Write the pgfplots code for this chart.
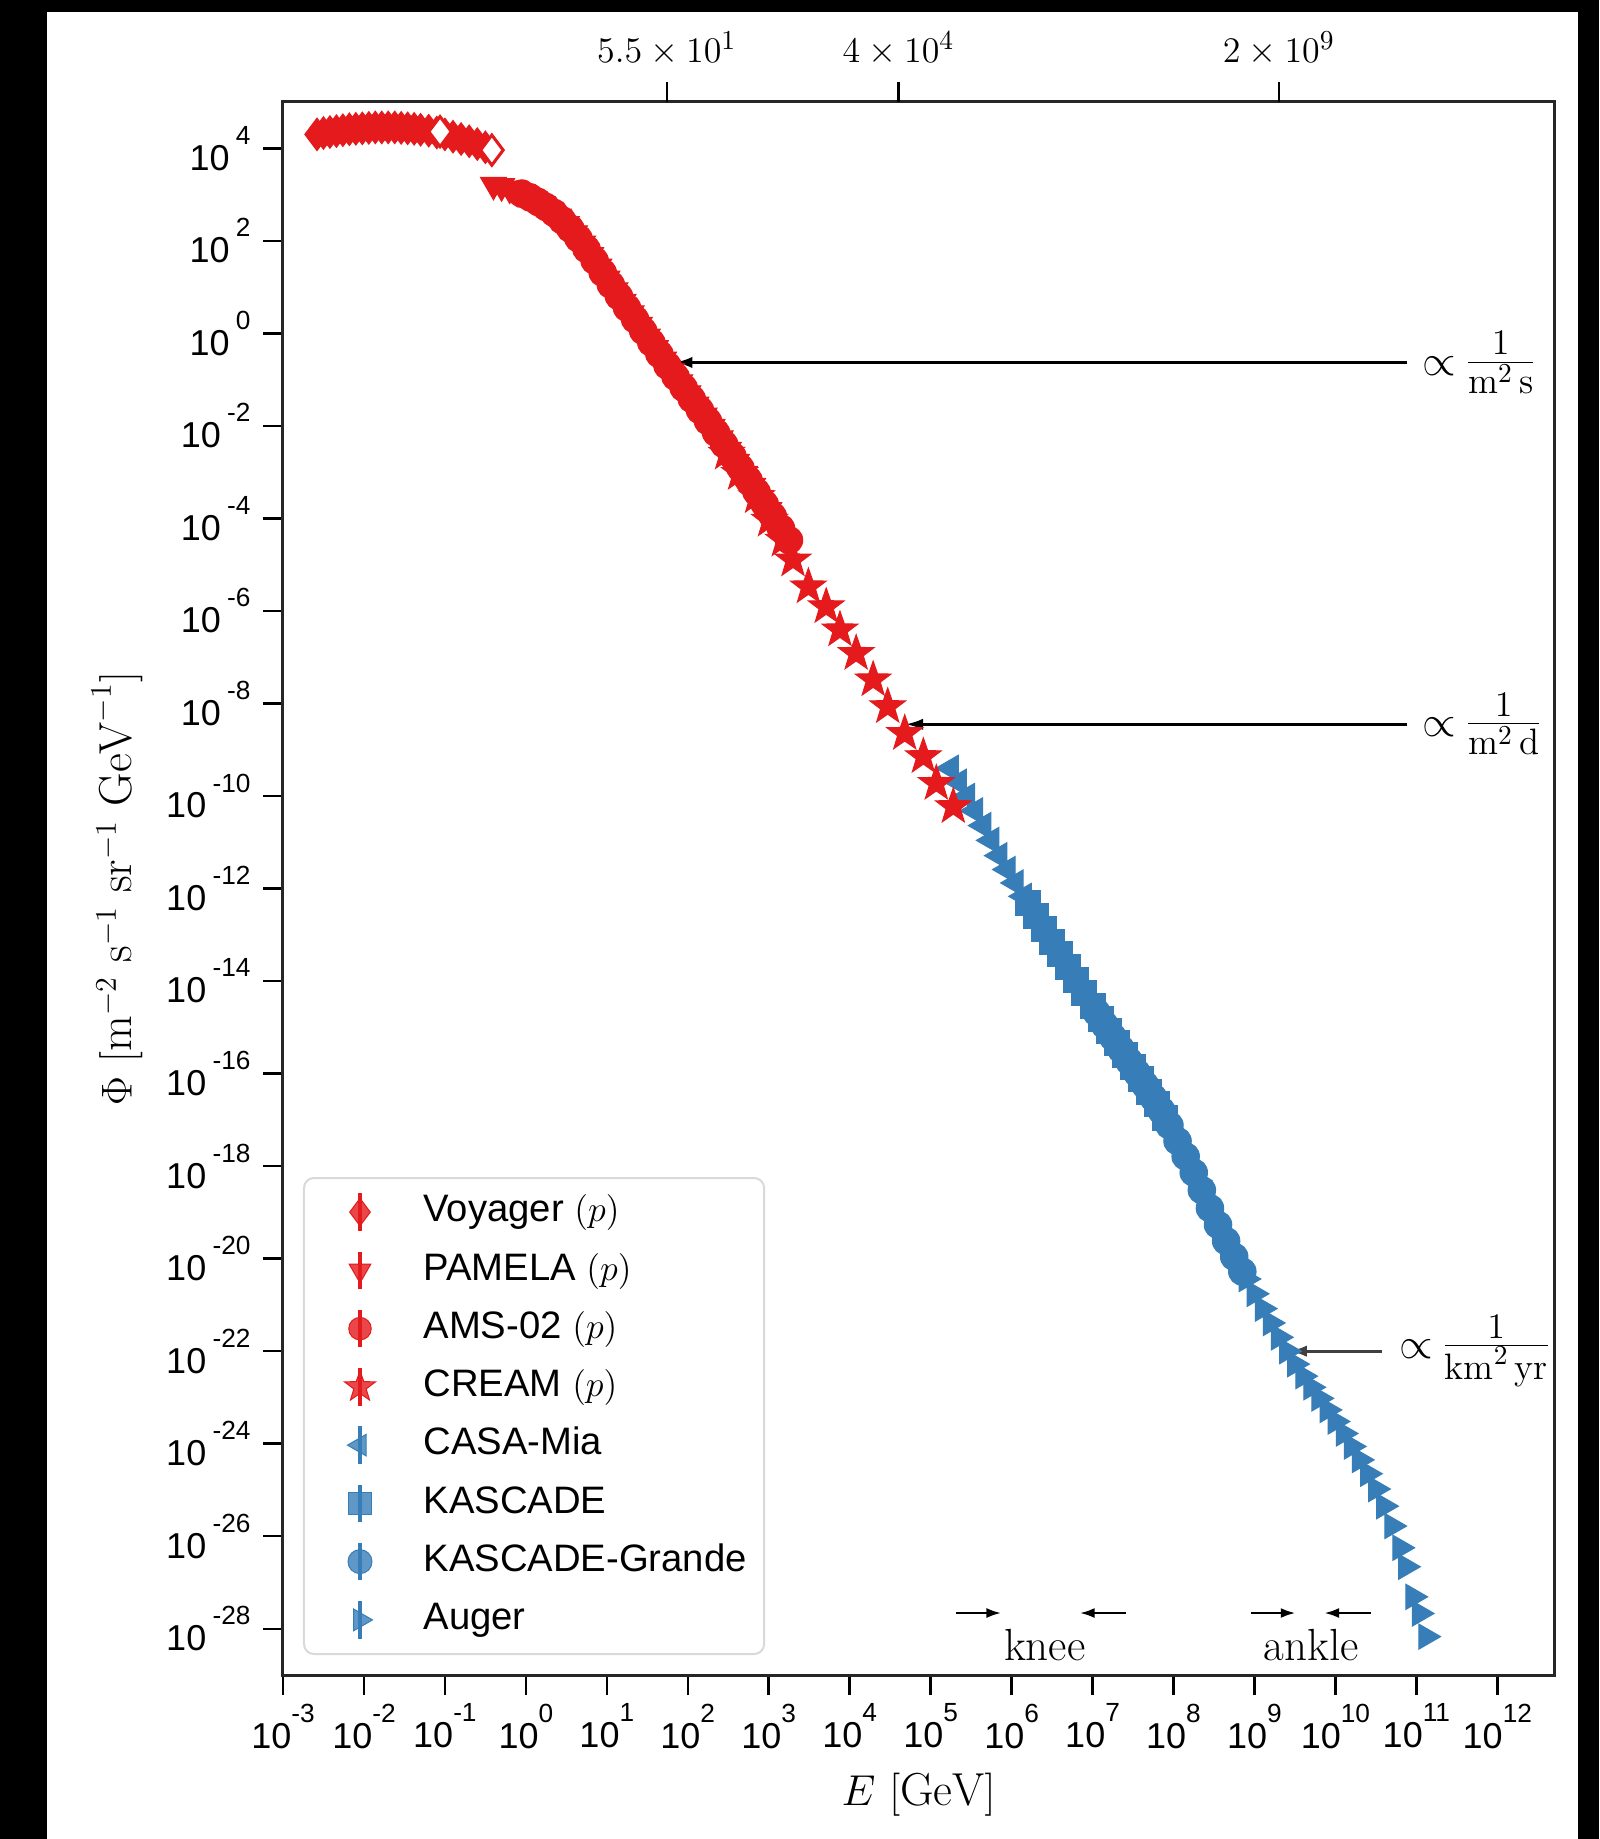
\documentclass[border=0pt]{standalone}
\usepackage{fontspec}
\usepackage{pgfplots}
\pgfplotsset{compat=1.18}
\usetikzlibrary{arrows.meta}
\newfontfamily\arial{Liberation Sans}
\definecolor{cred}{RGB}{228,26,28}
\definecolor{cblue}{RGB}{55,126,184}
\newcommand{\tkl}[1]{10\raisebox{0.72em}{\fontsize{10.5}{11}\selectfont #1}}
\newcommand{\tkly}[1]{10\kern2.5pt\raisebox{0.72em}{\fontsize{10.5}{11}\selectfont #1}}

\pgfdeclareplotmark{fstar}{%
 \pgfpathmoveto{\pgfpointpolar{90}{\pgfplotmarksize}}%
 \pgfpathlineto{\pgfpointpolar{126}{0.40\pgfplotmarksize}}%
 \pgfpathlineto{\pgfpointpolar{162}{\pgfplotmarksize}}%
 \pgfpathlineto{\pgfpointpolar{198}{0.40\pgfplotmarksize}}%
 \pgfpathlineto{\pgfpointpolar{234}{\pgfplotmarksize}}%
 \pgfpathlineto{\pgfpointpolar{270}{0.40\pgfplotmarksize}}%
 \pgfpathlineto{\pgfpointpolar{306}{\pgfplotmarksize}}%
 \pgfpathlineto{\pgfpointpolar{342}{0.40\pgfplotmarksize}}%
 \pgfpathlineto{\pgfpointpolar{18}{\pgfplotmarksize}}%
 \pgfpathlineto{\pgfpointpolar{54}{0.40\pgfplotmarksize}}%
 \pgfpathclose
 \pgfusepathqfillstroke
}

\pgfplotsset{
 legimg/.style={legend image code/.code={%
   \path (0pt,-7pt) (40pt,7pt);
   \draw[line width=1.3pt] (20pt,-7.5pt) -- (20pt,7.5pt);
   \draw plot coordinates {(20pt,0pt)};}},
 sVoy/.style={cred, only marks, mark=diamond*, mark size=6.5pt, mark options={solid, fill=cred, draw=cred, line width=0.4pt}},
 sVoyOpen/.style={cred, only marks, mark=diamond*, mark size=6pt, mark options={solid, fill=white, draw=cred, line width=1.2pt}},
 sPam/.style={cred, only marks, mark=triangle*, mark size=6pt, mark options={solid, rotate=180, fill=cred, draw=cred, line width=0.4pt}},
 sAms/.style={cred, only marks, mark=*, mark size=5.5pt, mark options={solid, fill=cred, draw=cred, line width=0.4pt}},
 sCre/.style={cred, only marks, mark=fstar, mark size=7.5pt, mark options={solid, fill=cred, draw=cred, line width=0.4pt}},
 sCas/.style={cblue, only marks, mark=triangle*, mark size=6pt, mark options={solid, rotate=90, fill=cblue, draw=cblue, line width=0.4pt}},
 sKas/.style={cblue, only marks, mark=square*, mark size=5pt, mark options={solid, fill=cblue, draw=cblue, line width=0.4pt}},
 sKag/.style={cblue, only marks, mark=*, mark size=5.5pt, mark options={solid, fill=cblue, draw=cblue, line width=0.4pt}},
 sAug/.style={cblue, only marks, mark=triangle*, mark size=5.8pt, mark options={solid, rotate=-90, fill=cblue, draw=cblue, line width=0.4pt}},
}

\begin{document}
\begin{tikzpicture}
\fill[black] (-113.2pt,-65.6pt) rectangle (526.4pt,670pt);
\fill[white] (-94.4pt,-65.6pt) rectangle (518pt,665.2pt);

\begin{axis}[
 at={(0,0)}, anchor=south west, scale only axis,
 width=508.4pt, height=629.2pt,
 xmode=log, ymode=log, log basis x=10, log basis y=10,
 xmin=1e-3, xmax=5.012e12, ymin=1e-29, ymax=1e5,
 xtick={1e-3,1e-2,1e-1,1,1e1,1e2,1e3,1e4,1e5,1e6,1e7,1e8,1e9,1e10,1e11,1e12},
 xticklabels={\tkl{-3},\tkl{-2},\tkl{-1},\tkl{0},\tkl{1},\tkl{2},\tkl{3},\tkl{4},\tkl{5},\tkl{6},\tkl{7},\tkl{8},\tkl{9},\tkl{10},\tkl{11},\tkl{12}},
 ytick={1e-28,1e-26,1e-24,1e-22,1e-20,1e-18,1e-16,1e-14,1e-12,1e-10,1e-8,1e-6,1e-4,1e-2,1,1e2,1e4},
 yticklabels={\tkly{-28},\tkly{-26},\tkly{-24},\tkly{-22},\tkly{-20},\tkly{-18},\tkly{-16},\tkly{-14},\tkly{-12},\tkly{-10},\tkly{-8},\tkly{-6},\tkly{-4},\tkly{-2},\tkly{0},\tkly{2},\tkly{4}},
 xminorticks=false, yminorticks=false,
 tick align=outside, tick pos=left,
 major tick length=8pt,
 tick style={line width=1pt, black},
 axis line style={line width=1.2pt, black!85},
 tick label style={font=\arial\fontsize{14.4}{17}\selectfont},
 yticklabel style={xshift=-1.5pt},
 xlabel={$E\ [\mathrm{GeV}]$},
 ylabel={$\Phi\ [\mathrm{m}^{-2}\ \mathrm{s}^{-1}\ \mathrm{sr}^{-1}\ \mathrm{GeV}^{-1}]$},
 every axis x label/.style={at={(axis description cs:0.5,0)}, yshift=-48pt, anchor=center, font=\fontsize{18.5}{22}\selectfont},
 every axis y label/.style={at={(axis description cs:0,0.5)}, xshift=-66.4pt, rotate=90, anchor=center, font=\fontsize{18.5}{22}\selectfont},
 legend cell align=left,
 legend style={at={(0,0)}, anchor=south west, xshift=8pt, yshift=8pt,
   draw=black!15, line width=0.8pt, rounded corners=4pt,
   fill=white, fill opacity=0.8, text opacity=1, draw opacity=1,
   font=\arial\fontsize{15.3}{18}\selectfont,
   inner xsep=2pt, inner ysep=2pt, row sep=0pt,
   nodes={inner xsep=5pt, inner ysep=4pt, text height=11.5pt, text depth=3.8pt}},
]
\addlegendimage{sVoy, mark size=5.5pt, legimg}\addlegendentry{Voyager $(p)$}
\addlegendimage{sPam, mark size=5pt, legimg}\addlegendentry{PAMELA $(p)$}
\addlegendimage{sAms, mark size=4.5pt, legimg}\addlegendentry{AMS-02 $(p)$}
\addlegendimage{sCre, mark size=6.5pt, legimg}\addlegendentry{CREAM $(p)$}
\addlegendimage{sCas, mark size=5pt, legimg}\addlegendentry{CASA-Mia}
\addlegendimage{sKas, mark size=4.5pt, legimg}\addlegendentry{KASCADE}
\addlegendimage{sKag, mark size=4.8pt, legimg}\addlegendentry{KASCADE-Grande}
\addlegendimage{sAug, mark size=5pt, legimg}\addlegendentry{Auger}

% CASA-Mia
\addplot[sCas, forget plot] coordinates {
(1.778e5,3.981e-10) (2.239e5,1.995e-10) (2.818e5,9.772e-11) (3.548e5,4.786e-11)
(4.467e5,2.291e-11) (5.623e5,1.096e-11) (7.079e5,5.129e-12) (8.913e5,2.570e-12)
(1.122e6,1.318e-12) (1.413e6,6.761e-13) (1.778e6,3.467e-13) (2.239e6,1.820e-13)
(2.818e6,9.772e-14) (3.548e6,5.248e-14)
};
% KASCADE
\addplot[sKas, forget plot] coordinates {
(1.585e6,4.786e-13) (1.995e6,2.512e-13) (2.512e6,1.318e-13) (3.162e6,7.079e-14)
(3.981e6,3.802e-14) (5.012e6,2.042e-14) (6.310e6,1.072e-14) (7.943e6,5.623e-15)
(1.000e7,2.818e-15) (1.259e7,1.514e-15) (1.585e7,8.318e-16) (1.995e7,4.571e-16)
(2.512e7,2.512e-16) (3.162e7,1.380e-16) (3.981e7,7.586e-17) (5.012e7,4.074e-17)
(6.310e7,2.188e-17) (7.943e7,1.122e-17)
};
% KASCADE-Grande
\addplot[sKag, forget plot] coordinates {
(1.122e7,2.089e-15) (1.413e7,1.122e-15) (1.778e7,6.166e-16) (2.239e7,3.388e-16)
(2.818e7,1.862e-16) (3.548e7,1.023e-16) (4.467e7,5.623e-17) (5.623e7,3.020e-17)
(7.079e7,1.585e-17) (8.913e7,7.586e-18) (1.122e8,3.467e-18) (1.413e8,1.622e-18)
(1.778e8,7.244e-19) (2.239e8,3.020e-19) (2.818e8,1.230e-19) (3.548e8,5.370e-20)
(4.467e8,2.399e-20) (5.623e8,1.096e-20) (7.079e8,5.248e-21)
};
% Auger
\addplot[sAug, forget plot] coordinates {
(1.585e8,1.096e-18) (1.995e8,4.786e-19) (2.512e8,1.905e-19) (3.162e8,7.943e-20)
(3.981e8,3.548e-20) (5.012e8,1.585e-20) (6.310e8,7.586e-21) (7.943e8,3.631e-21)
(1.000e9,1.738e-21) (1.259e9,8.318e-22) (1.585e9,4.074e-22) (1.995e9,1.995e-22)
(2.512e9,1.000e-22) (3.162e9,5.248e-23) (3.981e9,2.884e-23) (5.012e9,1.660e-23)
(6.310e9,9.550e-24) (7.943e9,5.370e-24) (1.000e10,3.020e-24) (1.259e10,1.660e-24)
(1.585e10,8.710e-25) (1.995e10,4.467e-25) (2.512e10,2.239e-25) (3.162e10,1.047e-25)
(3.981e10,4.467e-26) (5.012e10,1.660e-26) (6.310e10,5.623e-27) (7.413e10,2.188e-27)
(9.120e10,4.898e-28) (1.096e11,2.138e-28) (1.318e11,6.761e-29)
};
% Voyager
\addplot[sVoy, forget plot] coordinates {
(2.630e-3,1.995e4) (3.162e-3,2.138e4) (3.802e-3,2.239e4) (4.571e-3,2.344e4)
(5.495e-3,2.455e4) (6.607e-3,2.570e4) (7.943e-3,2.630e4) (9.550e-3,2.692e4)
(1.148e-2,2.754e4) (1.380e-2,2.818e4) (1.660e-2,2.818e4) (1.995e-2,2.818e4)
(2.399e-2,2.818e4) (2.884e-2,2.754e4) (3.467e-2,2.692e4) (4.169e-2,2.630e4)
(5.012e-2,2.512e4) (6.310e-2,2.399e4) (7.943e-2,2.188e4) (1.000e-1,1.995e4)
(1.259e-1,1.778e4) (1.585e-1,1.585e4) (1.995e-1,1.413e4) (2.512e-1,1.230e4)
(3.162e-1,1.047e4) (3.802e-1,9.120e3)
};
\addplot[sVoyOpen, forget plot] coordinates {(8.710e-2,2.291e4) (3.802e-1,9.120e3)};
% PAMELA
\addplot[sPam, forget plot] coordinates {
(3.981e-1,1.622e3) (5.012e-1,1.514e3) (6.310e-1,1.349e3) (7.943e-1,1.148e3)
(1.000e0,9.550e2) (1.259e0,7.762e2) (1.585e0,6.166e2) (1.995e0,4.677e2)
(2.512e0,3.311e2) (3.162e0,2.291e2) (3.981e0,1.445e2) (5.012e0,8.710e1)
(6.310e0,4.898e1) (7.943e0,2.754e1) (1.000e1,1.514e1) (1.259e1,8.511e0)
(1.585e1,4.786e0) (1.995e1,2.692e0) (2.512e1,1.514e0) (3.162e1,8.511e-1)
(3.981e1,4.786e-1) (5.012e1,2.692e-1) (6.310e1,1.514e-1) (7.943e1,8.710e-2)
(1.000e2,5.012e-2) (1.259e2,2.884e-2) (1.585e2,1.660e-2) (1.995e2,9.550e-3)
(2.512e2,5.370e-3) (3.162e2,3.020e-3) (3.981e2,1.660e-3) (5.012e2,9.120e-4)
(6.310e2,5.012e-4) (7.943e2,2.754e-4) (1.000e3,1.514e-4)
};
% AMS-02
\addplot[sAms, forget plot] coordinates {
(8.913e-1,1.047e3) (1.122e0,8.710e2) (1.413e0,6.918e2) (1.778e0,5.370e2)
(2.239e0,3.981e2) (2.818e0,2.754e2) (3.548e0,1.820e2) (4.467e0,1.122e2)
(5.623e0,6.607e1) (7.079e0,3.715e1) (8.913e0,2.042e1) (1.122e1,1.122e1)
(1.413e1,6.310e0) (1.778e1,3.548e0) (2.239e1,1.995e0) (2.818e1,1.122e0)
(3.548e1,6.310e-1) (4.467e1,3.548e-1) (5.623e1,1.995e-1) (7.079e1,1.148e-1)
(8.913e1,6.607e-2) (1.122e2,3.802e-2) (1.413e2,2.188e-2) (1.778e2,1.259e-2)
(2.239e2,7.079e-3) (2.818e2,3.981e-3) (3.548e2,2.239e-3) (4.467e2,1.230e-3)
(5.623e2,6.761e-4) (7.079e2,3.715e-4) (8.913e2,2.042e-4) (1.122e3,1.122e-4)
(1.413e3,6.166e-5) (1.778e3,3.388e-5)
};
% CREAM
\addplot[sCre, forget plot] coordinates {
(3.020e2,2.570e-3) (4.365e2,9.333e-4) (7.079e2,2.951e-4) (1.023e3,9.120e-5)
(1.514e3,3.388e-5) (1.995e3,1.259e-5) (3.090e3,3.311e-6) (5.129e3,1.230e-6)
(7.586e3,3.890e-7) (1.202e4,1.202e-7) (1.950e4,3.236e-8) (2.951e4,8.511e-9)
(4.786e4,2.239e-9) (8.128e4,7.079e-10) (1.175e5,1.862e-10) (1.905e5,5.888e-11)
};

% annotations
\draw[-{Latex[length=7pt,width=4.5pt]}, line width=1.1pt] (axis cs:7.762e10,2.344e-1) -- (axis cs:6.918e1,2.344e-1);
\node[anchor=west, xshift=5pt, inner xsep=1pt] at (axis cs:7.762e10,2.344e-1) {\fontsize{17}{20}\selectfont$\propto$\fontsize{21}{24}\selectfont$\,\frac{1}{\mathrm{m}^2\,\mathrm{s}}$};
\draw[-{Latex[length=7pt,width=4.5pt]}, line width=1.1pt] (axis cs:7.762e10,3.548e-9) -- (axis cs:4.898e4,3.548e-9);
\node[anchor=west, xshift=5pt, inner xsep=1pt] at (axis cs:7.762e10,3.548e-9) {\fontsize{17}{20}\selectfont$\propto$\fontsize{21}{24}\selectfont$\,\frac{1}{\mathrm{m}^2\,\mathrm{d}}$};
\draw[-{Latex[length=7pt,width=4.5pt]}, line width=1.1pt, black!75] (axis cs:3.715e10,1e-22) -- (axis cs:2.692e9,1e-22);
\node[anchor=west, xshift=6pt, inner xsep=1pt] at (axis cs:3.715e10,1e-22) {\fontsize{17}{20}\selectfont$\propto$\fontsize{21}{24}\selectfont$\,\frac{1}{\mathrm{km}^2\,\mathrm{yr}}$};
\draw[-{Latex[length=6pt,width=4pt]}, line width=1.1pt] (axis cs:2.042e5,2.188e-28) -- (axis cs:7.499e5,2.188e-28);
\draw[-{Latex[length=6pt,width=4pt]}, line width=1.1pt] (axis cs:2.570e7,2.188e-28) -- (axis cs:6.918e6,2.188e-28);
\node[font=\fontsize{18}{21}\selectfont] at (axis cs:2.570e6,4.365e-29) {knee};
\draw[-{Latex[length=6pt,width=4pt]}, line width=1.1pt] (axis cs:9.120e8,2.188e-28) -- (axis cs:3.236e9,2.188e-28);
\draw[-{Latex[length=6pt,width=4pt]}, line width=1.1pt] (axis cs:2.754e10,2.188e-28) -- (axis cs:7.244e9,2.188e-28);
\node[font=\fontsize{18}{21}\selectfont] at (axis cs:5.012e9,4.365e-29) {ankle};
\end{axis}

% top axis
\begin{axis}[
 at={(0,0)}, anchor=south west, scale only axis,
 width=508.4pt, height=629.2pt,
 xmode=log, log basis x=10,
 xmin=1e-3, xmax=5.012e12, ymin=0, ymax=1,
 axis x line*=top, axis y line=none,
 axis line style={draw=none},
 xtick={55,4e4,2e9},
 xticklabels={$5.5\times10^{1}$,$4\times10^{4}$,$2\times10^{9}$},
 xminorticks=false,
 tick align=outside, major tick length=8pt,
 tick style={line width=1pt, black},
 xticklabel style={font=\fontsize{15.5}{18}\selectfont, yshift=3pt},
]
\addplot[draw=none, forget plot] coordinates {(1,0.5)};
\end{axis}

\pgfresetboundingbox
\useasboundingbox (-113.2pt,-65.6pt) rectangle (526.4pt,670pt);
\end{tikzpicture}
\end{document}
